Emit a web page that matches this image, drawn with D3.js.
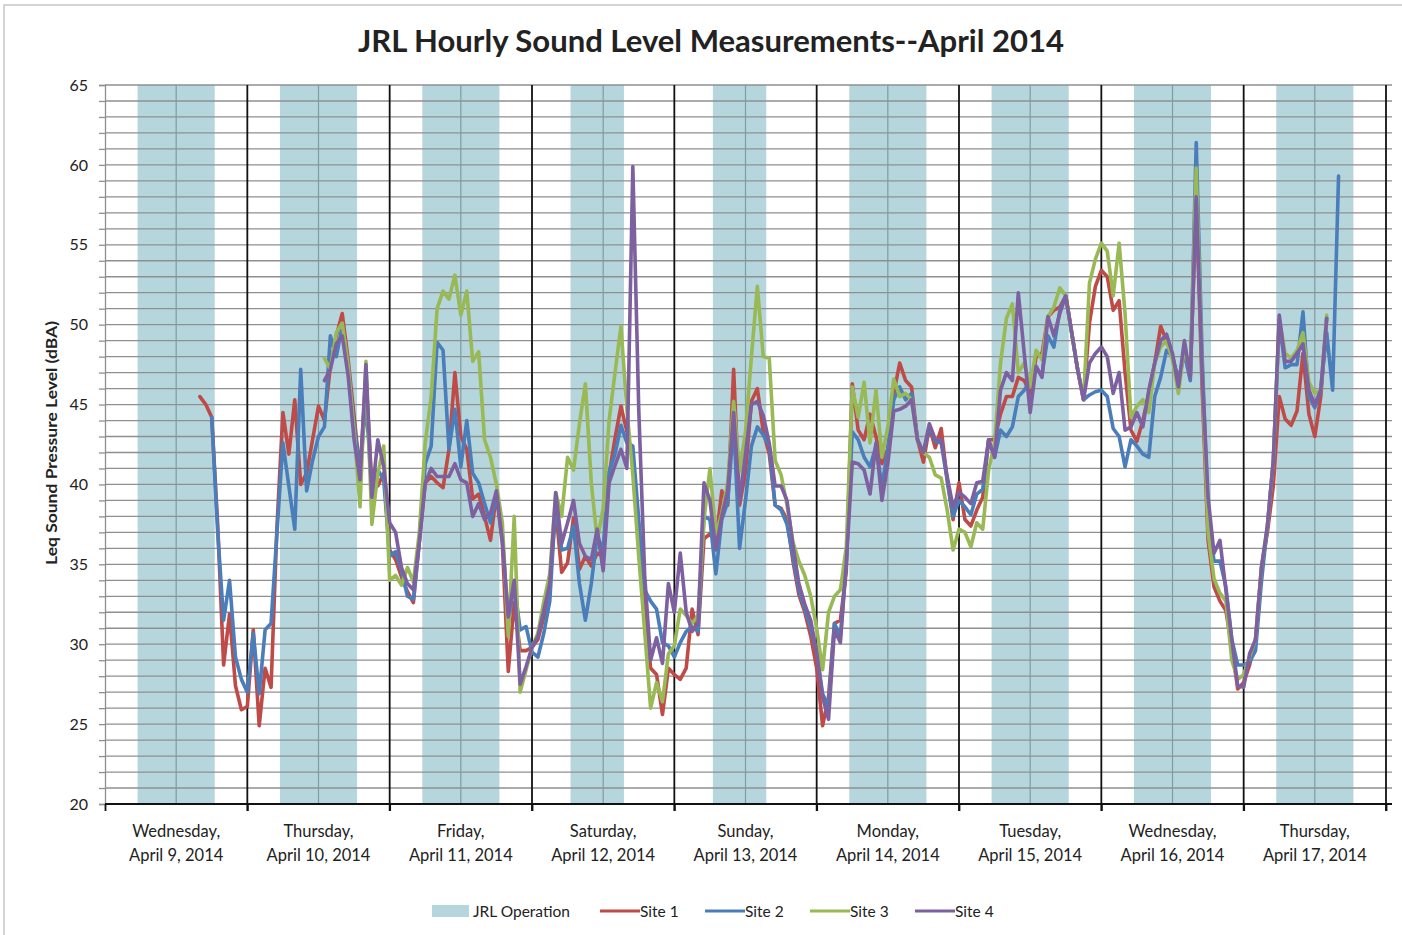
<!DOCTYPE html>
<html>
<head>
<meta charset="utf-8">
<script src="https://cdn.jsdelivr.net/npm/d3@7"></script>
<style>
  body { margin: 0; background: #fff; }
  svg text { font-family: Lato, "Open Sans", sans-serif; fill: #222; }
</style>
</head>
<body>
<svg id="chart" width="1402" height="935"></svg>
<script>
// day labels
const dayNames = ["Wednesday,", "Thursday,", "Friday,", "Saturday,", "Sunday,", "Monday,", "Tuesday,", "Wednesday,", "Thursday,"];
const dayDates = ["April 9, 2014", "April 10, 2014", "April 11, 2014", "April 12, 2014", "April 13, 2014",
  "April 14, 2014", "April 15, 2014", "April 16, 2014", "April 17, 2014"];

// JRL operating hours for each day (first / last operating hour)
const opStart = [6, 6, 6, 7, 7, 6, 6, 6, 6];
const opEnd = [18, 18, 18, 15, 15, 18, 18, 18, 18];

const yTicks = [20, 25, 30, 35, 40, 45, 50, 55, 60, 65];

// hourly Leq (dBA), first value is at the given start hour (hours since Apr 9 00:00)
const site1Start = 16;
const site1 = [
  45.5, 45.0, 44.2, 37.5, 28.7, 31.9, 27.4, 25.9,
  26.1, 30.9, 24.9, 28.5, 27.3, 37.4, 44.5, 41.9, 45.3, 40.0, 40.7, 42.8, 44.9, 44.0, 47.4, 49.3, 50.7, 47.8, 44.3, 40.7, 46.8, 39.9, 39.9, 40.7,
  35.9, 35.3, 34.2, 33.3, 32.6, 36.4, 40.1, 40.5, 40.1, 39.8, 42.2, 47.0, 43.0, 42.2, 39.1, 39.4, 38.0, 36.5, 39.4, 36.3, 28.3, 32.6, 29.6, 29.6,
  29.8, 30.3, 31.7, 33.8, 38.5, 34.5, 35.1, 37.9, 34.7, 35.5, 34.9, 35.7, 35.5, 40.6, 42.9, 44.9, 43.3, 41.7, 36.6, 32.4, 28.5, 28.1, 25.6, 28.5,
  28.1, 27.8, 28.5, 32.2, 30.6, 36.6, 36.9, 36.4, 39.6, 38.7, 47.2, 38.7, 40.8, 45.2, 46.0, 43.3, 41.9, 38.7, 38.5, 37.8, 35.2, 33.1, 32.0, 30.5,
  28.5, 24.9, 26.7, 31.3, 31.5, 34.6, 46.3, 43.4, 42.8, 44.4, 43.0, 41.3, 42.2, 45.7, 47.6, 46.5, 46.1, 42.8, 41.4, 43.6, 42.3, 43.5, 40.3, 37.8,
  40.1, 37.8, 37.4, 38.4, 39.2, 42.8, 42.8, 44.4, 45.5, 45.5, 46.7, 46.5, 45.7, 48.0, 48.2, 50.5, 50.9, 51.1, 51.8, 49.5, 47.2, 45.3, 50.1, 52.4,
  53.4, 53.0, 50.9, 51.5, 47.0, 43.4, 42.7, 44.0, 45.7, 47.6, 49.9, 49.0, 48.0, 46.5, 48.2, 46.7, 58.0, 46.0, 36.5, 33.6, 32.7, 32.1, 29.8, 27.2,
  27.6, 28.7, 30.3, 34.8, 37.0, 39.9, 45.5, 44.1, 43.7, 44.6, 48.2, 44.4, 43.0, 45.5, 50.4
];

const site2Start = 18;
const site2 = [
  44.2, 37.0, 31.5, 34.0, 29.2, 27.8,
  27.0, 30.7, 26.9, 30.9, 31.3, 37.0, 42.6, 39.9, 37.2, 47.2, 39.6, 41.5, 43.0, 43.6, 49.3, 48.0, 49.9, 47.4, 43.8, 40.7, 45.3, 39.5, 40.9, 40.3,
  35.5, 35.8, 34.6, 33.0, 32.8, 36.4, 41.3, 42.4, 48.9, 48.4, 42.2, 44.7, 41.1, 44.0, 40.7, 40.1, 38.8, 37.6, 39.4, 36.8, 31.3, 33.8, 30.9, 31.1,
  29.5, 29.2, 30.7, 32.7, 38.9, 35.9, 36.0, 37.4, 33.8, 31.5, 33.8, 36.8, 35.9, 40.8, 41.9, 43.7, 42.6, 42.4, 37.8, 33.4, 32.7, 32.2, 30.1, 29.9,
  29.2, 30.1, 30.8, 31.1, 30.8, 38.0, 37.8, 34.4, 37.8, 38.9, 43.8, 36.0, 39.0, 42.4, 43.6, 43.1, 42.4, 38.7, 38.4, 37.5, 35.5, 33.4, 32.2, 31.0,
  29.5, 26.9, 26.1, 31.3, 30.5, 35.1, 43.3, 42.8, 41.7, 41.1, 42.4, 39.9, 42.2, 45.3, 46.1, 45.3, 45.7, 42.8, 42.0, 43.6, 42.7, 42.6, 40.3, 38.0,
  39.0, 38.6, 38.1, 39.4, 39.7, 42.8, 41.7, 43.4, 43.0, 43.6, 45.5, 45.9, 46.5, 47.2, 46.9, 49.3, 48.6, 50.9, 51.8, 49.5, 47.2, 45.3, 45.6, 45.8,
  45.9, 45.5, 43.5, 43.0, 41.1, 42.8, 42.4, 41.9, 41.7, 45.5, 46.7, 48.4, 48.0, 46.5, 48.2, 46.5, 61.4, 48.0, 38.1, 35.2, 35.2, 33.6, 30.3, 28.7,
  28.7, 28.9, 29.6, 33.9, 37.4, 41.5, 50.2, 47.3, 47.5, 47.5, 50.8, 45.5, 44.8, 45.9, 49.5, 45.9, 59.3
];

const site3Start = 37;
const site3 = [
  47.9, 47.2, 49.5, 50.1, 47.4, 43.4, 38.6, 47.7, 37.5, 40.7, 42.4,
  34.0, 34.3, 33.7, 34.8, 33.9, 37.0, 42.6, 45.5, 51.0, 52.1, 51.6, 53.1, 50.6, 52.1, 47.7, 48.3, 42.8, 41.7, 40.0, 37.6, 30.5, 38.0, 27.0, 28.4,
  29.8, 30.7, 32.7, 34.4, 39.5, 38.0, 41.7, 40.9, 43.8, 46.3, 40.1, 36.5, 38.5, 44.0, 47.0, 49.9, 44.7, 40.6, 35.5, 30.8, 26.0, 27.6, 26.4, 29.4,
  29.9, 32.2, 31.8, 31.3, 31.8, 37.8, 41.0, 36.9, 38.2, 40.1, 45.2, 40.8, 43.3, 48.0, 52.4, 48.0, 47.9, 41.5, 40.6, 38.7, 36.4, 35.2, 34.3, 33.0,
  31.0, 28.4, 32.0, 33.0, 33.4, 36.1, 46.1, 44.2, 46.4, 42.6, 45.9, 41.7, 43.6, 46.6, 45.5, 45.7, 45.3, 42.8, 42.0, 41.7, 40.6, 40.4, 38.4, 35.9,
  37.2, 37.0, 36.1, 37.6, 37.2, 40.9, 42.6, 47.6, 50.4, 51.3, 47.0, 47.6, 46.1, 48.4, 47.8, 50.5, 51.1, 52.3, 51.8, 49.5, 47.2, 45.3, 52.6, 54.1,
  55.1, 54.6, 51.8, 55.1, 50.7, 44.2, 44.9, 45.3, 44.5, 47.6, 48.6, 49.0, 47.8, 45.7, 48.6, 46.9, 59.8, 47.0, 37.0, 34.1, 33.2, 32.7, 29.0, 27.8,
  28.1, 29.2, 30.3, 34.8, 37.4, 41.5, 50.4, 48.2, 47.9, 48.4, 49.5, 46.4, 45.7, 45.9, 50.6
];

const site4Start = 37;
const site4 = [
  46.5, 47.2, 48.8, 49.3, 46.8, 42.8, 40.3, 47.5, 39.2, 42.8, 41.1,
  37.6, 37.0, 34.8, 33.8, 33.4, 36.4, 40.1, 41.0, 40.5, 40.5, 40.5, 41.3, 40.3, 40.1, 38.0, 38.8, 37.8, 38.2, 39.6, 36.5, 31.7, 34.0, 27.5, 28.6,
  29.8, 30.5, 32.1, 33.8, 39.5, 36.3, 37.6, 39.0, 36.3, 35.5, 35.3, 37.2, 34.6, 40.1, 41.2, 42.2, 41.0, 59.9, 44.7, 34.3, 29.0, 30.4, 28.8, 33.8,
  32.0, 35.7, 32.0, 30.8, 31.3, 40.1, 39.0, 35.9, 38.0, 39.6, 44.5, 39.0, 41.9, 45.0, 45.2, 44.3, 42.6, 39.9, 39.9, 39.0, 36.2, 33.8, 32.5, 31.5,
  29.5, 26.7, 25.3, 30.9, 30.1, 35.1, 41.4, 41.3, 40.9, 39.4, 42.6, 39.0, 41.3, 44.6, 44.7, 44.9, 45.3, 42.8, 42.0, 43.8, 42.8, 42.8, 40.5, 38.6,
  39.5, 39.2, 38.8, 40.1, 40.2, 42.8, 41.7, 45.9, 47.0, 46.5, 52.0, 48.2, 44.5, 47.4, 46.7, 50.5, 49.3, 50.7, 51.8, 49.5, 47.2, 45.3, 47.6, 48.2,
  48.6, 48.0, 45.7, 47.0, 43.4, 43.6, 44.5, 43.6, 45.9, 47.6, 49.0, 49.4, 48.2, 46.1, 49.0, 46.7, 58.0, 47.0, 39.2, 35.7, 36.5, 33.4, 30.3, 27.4,
  27.3, 29.4, 30.3, 34.8, 37.4, 41.5, 50.6, 47.7, 47.7, 48.2, 48.8, 45.9, 45.0, 45.9, 50.4
];

const series = [
  { name: "Site 1", color: "#be4b48", start: site1Start, values: site1 },
  { name: "Site 2", color: "#4a7ebb", start: site2Start, values: site2 },
  { name: "Site 3", color: "#98b954", start: site3Start, values: site3 },
  { name: "Site 4", color: "#7d60a0", start: site4Start, values: site4 }
];

const bandColor = "#b5d6dd";
const margin = { top: 85, left: 105 };
const width = 1281;
const height = 719;
const nDays = dayNames.length;

const svg = d3.select("#chart");

// chart area border
svg.append("rect")
  .attr("x", 4).attr("y", 5).attr("width", 1420).attr("height", 960)
  .attr("fill", "none").attr("stroke", "#c8c8c8").attr("stroke-width", 1.5);

const g = svg.append("g").attr("transform", `translate(${margin.left},${margin.top})`);

const x = d3.scaleLinear().domain([0, nDays * 24]).range([0, width]);
const y = d3.scaleLinear().domain([20, 65]).range([height, 0]);

// JRL operation bands
g.selectAll(".band")
  .data(d3.range(nDays))
  .join("rect")
  .attr("class", "band")
  .attr("x", d => x(d * 24 + opStart[d] - 0.5))
  .attr("width", d => x(d * 24 + opEnd[d] + 0.5) - x(d * 24 + opStart[d] - 0.5))
  .attr("y", 0)
  .attr("height", height)
  .attr("fill", bandColor);

// horizontal gridlines every 1 dB
g.selectAll(".hgrid")
  .data(d3.range(21, 66))
  .join("line")
  .attr("x1", 0).attr("x2", width + 6)
  .attr("y1", d => y(d)).attr("y2", d => y(d))
  .attr("stroke", "#8f8f8f").attr("stroke-width", 1.3);

// noon gridlines
g.selectAll(".noon")
  .data(d3.range(nDays))
  .join("line")
  .attr("x1", d => x(d * 24 + 12)).attr("x2", d => x(d * 24 + 12))
  .attr("y1", 0).attr("y2", height)
  .attr("stroke", "#7f9aa0").attr("stroke-width", 1.2);

// midnight lines
g.selectAll(".midnight")
  .data(d3.range(1, nDays + 1))
  .join("line")
  .attr("x1", d => x(d * 24)).attr("x2", d => x(d * 24))
  .attr("y1", 0).attr("y2", height + 7)
  .attr("stroke", "#111").attr("stroke-width", 1.8);

// y axis with minor ticks
const yAxis = g.append("g")
  .call(d3.axisLeft(y).tickValues(d3.range(20, 66)).tickSize(6).tickPadding(11)
    .tickFormat(d => yTicks.includes(d) ? d : ""));
yAxis.select(".domain").attr("stroke", "#8f8f8f").attr("stroke-width", 1.3);
yAxis.selectAll(".tick line").attr("stroke", "#8f8f8f").attr("stroke-width", 1.3);
yAxis.selectAll(".tick text")
  .style("font-family", "Lato, sans-serif").style("font-size", "16px").attr("fill", "#333");

// sound level lines
const line = d3.line()
  .x(d => x(d.hour))
  .y(d => y(d.value))
  .curve(d3.curveLinear);

series.forEach(s => {
  const pts = s.values.map((v, i) => ({ hour: s.start + i, value: v }));
  g.append("path")
    .datum(pts)
    .attr("d", line)
    .attr("fill", "none")
    .attr("stroke", s.color)
    .attr("stroke-width", 3.6)
    .attr("stroke-linejoin", "round")
    .attr("stroke-linecap", "round");
});

// x axis
const xAxis = g.append("g")
  .attr("transform", `translate(0,${height})`)
  .call(d3.axisBottom(x).tickValues(d3.range(0, nDays * 24 + 1, 24)).tickSize(7).tickFormat(""));
xAxis.select(".domain").remove();
xAxis.selectAll(".tick line").attr("stroke", "#111").attr("stroke-width", 1.8);
g.append("line")
  .attr("x1", 0).attr("x2", width + 6)
  .attr("y1", height).attr("y2", height)
  .attr("stroke", "#111").attr("stroke-width", 2.2);

// day labels
const dayLabel = g.selectAll(".daylabel")
  .data(d3.range(nDays))
  .join("text")
  .attr("text-anchor", "middle")
  .style("font-size", "16.5px")
  .attr("fill", "#333");
dayLabel.append("tspan")
  .attr("x", d => x(d * 24 + 12))
  .attr("y", height + 33)
  .text(d => dayNames[d]);
dayLabel.append("tspan")
  .attr("x", d => x(d * 24 + 12))
  .attr("y", height + 57)
  .text(d => dayDates[d]);

// y axis title
svg.append("text")
  .attr("transform", "translate(57,443) rotate(-90)")
  .attr("text-anchor", "middle")
  .style("font-size", "14.5px")
  .style("font-weight", "bold")
  .attr("textLength", 244)
  .attr("lengthAdjust", "spacingAndGlyphs")
  .text("Leq Sound Pressure Level (dBA)");

// title
svg.append("text")
  .attr("x", 711)
  .attr("y", 52)
  .attr("text-anchor", "middle")
  .style("font-size", "30px")
  .style("font-weight", "bold")
  .attr("textLength", 706)
  .attr("lengthAdjust", "spacingAndGlyphs")
  .text("JRL Hourly Sound Level Measurements--April 2014");

// legend
const legend = svg.append("g").attr("transform", "translate(432,911)");
legend.append("rect")
  .attr("x", 0).attr("y", -6).attr("width", 37).attr("height", 12)
  .attr("fill", bandColor);
legend.append("text")
  .attr("x", 41).attr("y", 6)
  .style("font-size", "15.5px").attr("fill", "#333")
  .text("JRL Operation");
const legendX = [168, 273, 378, 483];
series.forEach((s, i) => {
  legend.append("line")
    .attr("x1", legendX[i]).attr("x2", legendX[i] + 40)
    .attr("y1", 0).attr("y2", 0)
    .attr("stroke", s.color).attr("stroke-width", 3.2);
  legend.append("text")
    .attr("x", legendX[i] + 40).attr("y", 6)
    .style("font-size", "15.5px").attr("fill", "#333")
    .text(s.name);
});
</script>
</body>
</html>
